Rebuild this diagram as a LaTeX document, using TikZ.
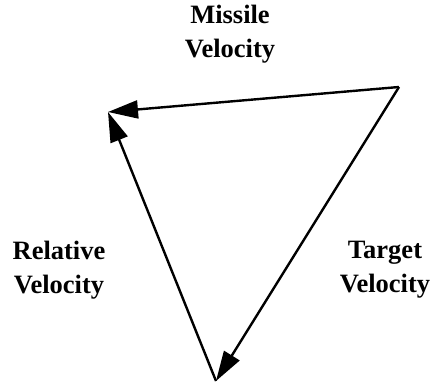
\documentclass[tikz,border=0pt]{standalone}
\usepackage{fontspec}
\setmainfont{Liberation Serif}
\usetikzlibrary{arrows.meta}
\begin{document}
\begin{tikzpicture}[x=1pt,y=1pt,
  vec/.style={line width=2.4pt,-{Triangle[length=30pt,width=18pt]}},
  lbl/.style={font=\fontsize{26.5}{34}\selectfont\bfseries,align=center,inner sep=0pt}]
\useasboundingbox (0,0) rectangle (435,385);
\coordinate (A) at (399,298);
\coordinate (L) at (108,273);
\coordinate (B) at (216,4);
\draw[vec] (A) -- (L);
\draw[vec] (A) -- (B);
\draw[vec] (B) -- (L);
\node[lbl] (m) at (230,351) {Missile\\Velocity};
\node[lbl] (r) at (59,115) {Relative\\Velocity};
\node[lbl] (t) at (385,115) {Target\\Velocity};
\end{tikzpicture}
\end{document}
